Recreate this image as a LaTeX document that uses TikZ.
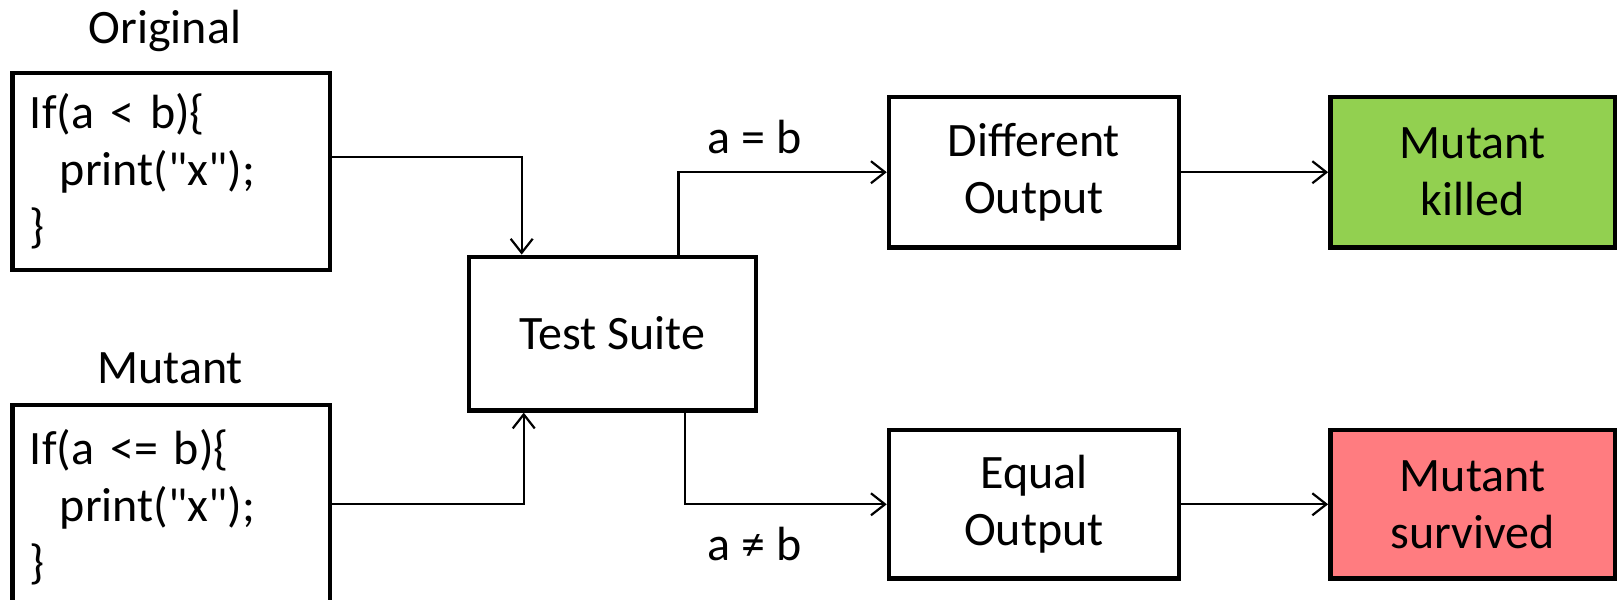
\documentclass[tikz,border=0pt]{standalone}
\usepackage{fontspec}
\setmainfont{Carlito}
\newfontfamily\plaincarlito{Carlito}
\usetikzlibrary{arrows.meta,calc}
\newcommand\pxu{0.5156pt}
\definecolor{killgreen}{HTML}{92D050}
\definecolor{survred}{HTML}{FF7C80}
\begin{document}
\begin{tikzpicture}[x=0.5156pt,y=-0.5156pt,
  every node/.style={font=\fontsize{24}{28.5}\selectfont},
  box/.style 2 args={draw=black, line width=2.2pt, minimum width=#1*\pxu, minimum height=#2*\pxu, align=center, inner sep=0pt},
  codebox/.style 2 args={box={#1}{#2}, text width=274*\pxu, align=left, font=\plaincarlito\fontsize{24}{28.5}\selectfont},
  conn/.style={line width=1.1pt, -{Straight Barb[length=7pt,width=11pt]}},
  lbl/.style={inner sep=0pt}]
\useasboundingbox (0,0) rectangle (1568,581);
% labels
\node[lbl] (origlbl) at (160,30) {Original};
\node[lbl] (mutlbl) at (165,357) {Mutant};
% code boxes
\node[codebox={308}{191}] (orig) at (166,166.5) {If(a < b)\{\\\hspace*{15pt}print("x");\\\}};
\node[codebox={308}{198}] (mut) at (166,492) {If(a <= b)\{\\\hspace*{15pt}print("x");\\\}};
% test suite
\node[box={278}{149}] (test) at (594,323.5) {Test Suite};
% outputs
\node[box={281}{146}] (diff) at (1002.5,167) {Different\\Output};
\node[box={281}{144}] (equal) at (1002.5,489) {Equal\\Output};
% results
\node[box={276}{146}, fill=killgreen] (killed) at (1428,167) {Mutant\\killed};
\node[box={276}{144}, fill=survred] (surv) at (1428,489) {Mutant\\survived};
% connectors
\draw[conn] ($(orig.east)+(0,-14.5)$) -| ($(test.north west)+(53,0)$);
\draw[conn] ($(mut.east)+(0,-3)$) -| ($(test.south west)+(55,0)$);
\draw[conn] ($(test.north west)+(205,0)$) |- (diff.west);
\draw[conn] ($(test.south west)+(211,0)$) |- (equal.west);
\draw[conn] (diff.east) -- (killed.west);
\draw[conn] (equal.east) -- (surv.west);
% condition labels
\node[lbl] (eqlbl) at (732,133) {a = b};
\node[lbl] (neqlbl) at (732,528) {a ≠ b};
\end{tikzpicture}
\end{document}
